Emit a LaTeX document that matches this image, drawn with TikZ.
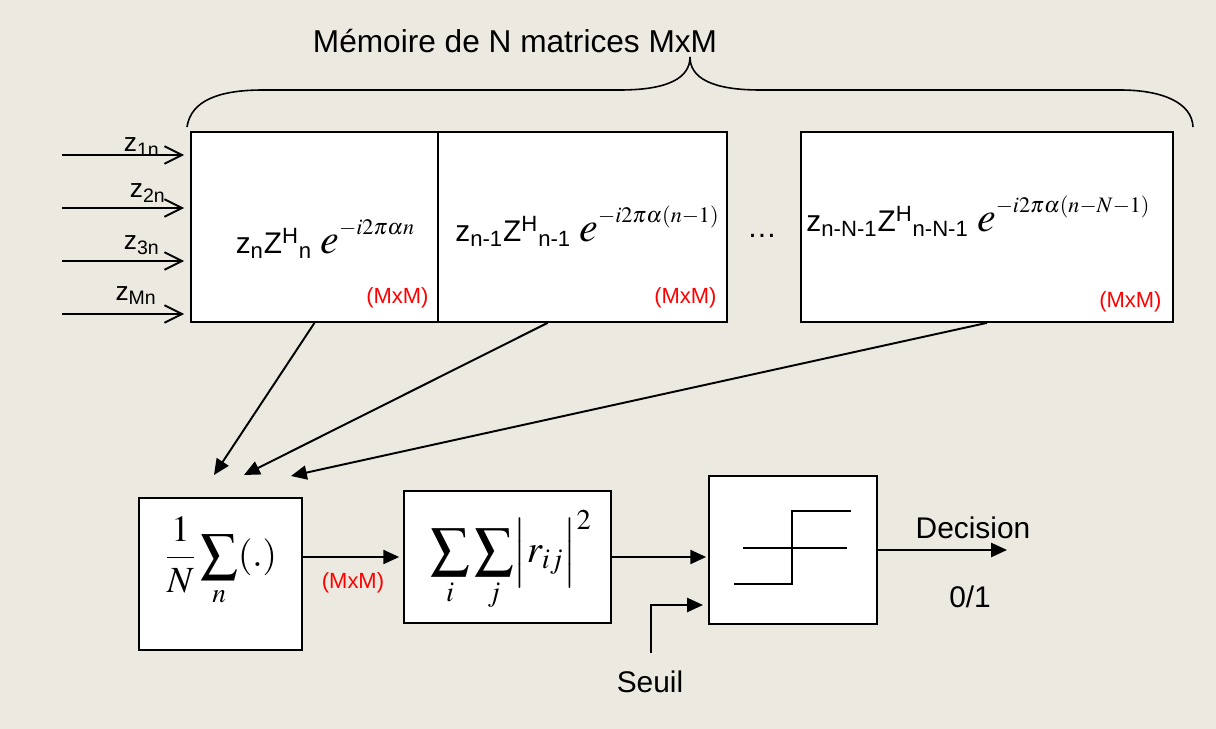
\documentclass[tikz,border=0pt]{standalone}
\usepackage{mathptmx}
\usepackage[no-math]{fontspec}
\setmainfont{Liberation Sans}
\usetikzlibrary{arrows.meta,positioning,calc}
\definecolor{paper}{RGB}{236,233,224}
\newcommand{\ephase}[1]{{\fontsize{24}{28}\selectfont$e$}\raisebox{11pt}{$\scriptstyle #1$}}

\begin{document}
\begin{tikzpicture}[x=0.02cm, y=-0.02cm,
        font=\fontsize{17}{20}\selectfont,
        blk/.style={draw, fill=white, line width=1pt, inner sep=0pt},
        dim/.style={text=red, font=\fontsize{12.5}{15}\selectfont, inner sep=0pt},
        zlbl/.style={font=\fontsize{15}{18}\selectfont, anchor=base east, inner sep=0pt},
        feed/.style={line width=1.1pt, -{Straight Barb[length=10pt,width=10pt]}},
        flow/.style={line width=1.1pt, -{Triangle[length=9pt,width=8pt]}}]

    % ---------- background ----------
    \fill[paper] (0,0) rectangle (1216,729);

    % ---------- memory of N matrices ----------
    \node[anchor=base, font=\fontsize{18}{21}\selectfont] (ttl) at (515,53) {Mémoire de N matrices MxM};
    \draw[line width=0.9pt] (187,127) .. controls (191,100) and (220,90) .. (263,90) -- (620,90)
        .. controls (668,90) and (690,78) .. (690,57) .. controls (690,78) and (712,90) .. (760,90)
        -- (1120,90) .. controls (1163,90) and (1192,103) .. (1193,127);

    \node[blk, minimum width=4.94cm, minimum height=3.8cm] (mem1) at (314.5,227) {};
    \node[blk, minimum width=5.78cm, minimum height=3.8cm] (mem2) at (582.5,227) {};
    \node[blk, minimum width=7.44cm, minimum height=3.8cm] (mem3) at (987,227) {};

    \node[anchor=base] (f1) at (325,254) {z\textsubscript{n}Z\textsuperscript{H}\textsubscript{n} \ephase{-i2\pi\alpha n}};
    \node[anchor=base] (f2) at (587,242) {z\textsubscript{n-1}Z\textsuperscript{H}\textsubscript{n-1} \ephase{-i2\pi\alpha(n-1)}};
    \node[anchor=base] (f3) at (978,232) {z\textsubscript{n-N-1}Z\textsuperscript{H}\textsubscript{n-N-1} \ephase{-i2\pi\alpha(n-N-1)}};
    \node[anchor=base] (gap) at (762,238) {…};

    \node[dim, anchor=base east] (d1) at ([shift={(-0.2cm,0.38cm)}]mem1.south east) {(MxM)};
    \node[dim, anchor=base east] (d2) at ([shift={(-0.22cm,0.38cm)}]mem2.south east) {(MxM)};
    \node[dim, anchor=base east] (d3) at ([shift={(-0.24cm,0.30cm)}]mem3.south east) {(MxM)};

    % inputs
    \foreach \i/\yy/\lab/\lx/\ly in {1/155/1n/160/152, 2/208/2n/166/198, 3/261/3n/160/250, 4/314/Mn/157/300} {
        \coordinate (zin\i) at (62,\yy);
        \draw[feed] (zin\i) -- ([xshift=-0.12cm]zin\i -| mem1.west);
        \node[zlbl] (zl\i) at (\lx,\ly) {z\textsubscript{\lab}};
    }

    % ---------- processing chain ----------
    \node[blk, minimum width=3.26cm, minimum height=3.04cm] (avg) at (220.5,574) {};
    \node[blk, minimum width=4.14cm, minimum height=2.64cm] (dsum) at (507.5,557) {};
    \node[blk, minimum width=3.36cm, minimum height=2.96cm] (thr) at (793,550) {};

    \node[font=\fontsize{21}{25}\selectfont] (favg) at (221,562) {$\displaystyle \frac{1}{N}\sum_n(.)$};
    \node[font=\fontsize{22}{26}\selectfont] (fdsum) at (511,561) {$\displaystyle \sum_i\sum_j\Bigl|r_{ij}\Bigr|^2$};

    \draw[line width=0.9pt] (734,584) -- (792,584) -- (792,511) -- (851,511);
    \draw[line width=0.9pt] (743,548) -- (847,548);

    \coordinate (t1) at (214,475);
    \coordinate (t2) at (244,475);
    \coordinate (t3) at (291,476);
    \draw[flow] (mem1.south) -- (t1);
    \draw[flow] ($(mem2.south west)!0.38!(mem2.south east)$) -- (t2);
    \draw[flow] (mem3.south) -- (t3);

    \draw[flow] (avg.east |- dsum.west) -- ([xshift=-0.08cm]dsum.west);
    \node[dim] (d4) at (353,583) {(MxM)};
    \draw[flow] (dsum.east) -- ([xshift=-0.04cm]dsum.east -| thr.west);

    \coordinate (sl) at (651,653);
    \coordinate (slin) at (703,605);
    \draw[flow] (sl) |- (slin);
    \node[anchor=base] (seuil) at (650,692) {Seuil};

    \coordinate (out) at (1007,550);
    \draw[flow] (thr.east) -- (out);
    \node[anchor=base] (dec) at (973,538) {Decision};
    \node[anchor=base] (bin) at (970,607) {0/1};
\end{tikzpicture}
\end{document}
